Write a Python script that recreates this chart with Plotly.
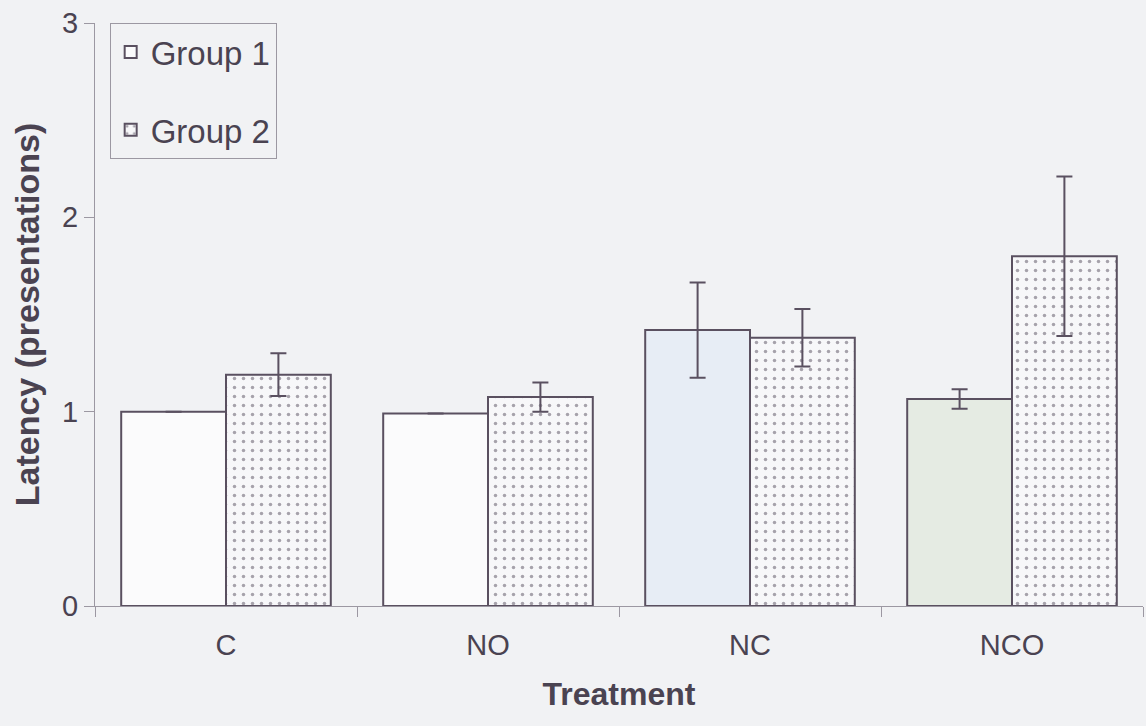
import plotly.graph_objects as go

# Treatment categories and group means / error half-widths
treatments = ["C", "NO", "NC", "NCO"]
group1_mean = [1.00, 0.99, 1.42, 1.065]
group1_err = [0.0, 0.0, 0.245, 0.05]
group2_mean = [1.19, 1.075, 1.38, 1.80]
group2_err = [0.11, 0.075, 0.148, 0.41]
y_ticks = [0, 1, 2, 3]

BG = "#f1f2f4"
INK = "#4a4351"
EDGE = "#5a5060"
AXIS = "#9c98a2"

group1_fill = ["#fbfbfc", "#fbfbfc", "#e7edf5", "#e5ebe3"]

fig = go.Figure()

fig.add_trace(go.Bar(
    name="Group 1",
    x=treatments,
    y=group1_mean,
    legendgroup="g1",
    marker=dict(color=group1_fill, line=dict(color=EDGE, width=2)),
    error_y=dict(type="data", array=group1_err, color=EDGE, thickness=2, width=8),
))

fig.add_trace(go.Bar(
    name="Group 2",
    x=treatments,
    y=group2_mean,
    legendgroup="g2",
    marker=dict(
        color="#f7f7f9",
        line=dict(color=EDGE, width=2),
        pattern=dict(shape=".", fgcolor="#564e5e", bgcolor="#f7f7f9",
                     size=9, solidity=0.12, fillmode="overlay"),
    ),
    error_y=dict(type="data", array=group2_err, color=EDGE, thickness=2, width=8),
))

fig.update_layout(
    width=1146,
    height=726,
    paper_bgcolor=BG,
    plot_bgcolor=BG,
    margin=dict(l=95, r=3, t=23, b=120),
    barmode="group",
    bargap=0.2,
    bargroupgap=0,
    font=dict(family="Liberation Sans, Arial, sans-serif", color=INK, size=28),
    showlegend=True,
    legend=dict(
        x=0.014, y=1.0, xanchor="left", yanchor="top",
        bgcolor=BG, bordercolor=AXIS, borderwidth=1,
        font=dict(size=33, color=INK),
        tracegroupgap=32,
        itemclick=False,
    ),
    xaxis=dict(
        showline=True, linecolor=AXIS, linewidth=1,
        ticks="outside", ticklen=10, tickcolor=AXIS, tickson="boundaries",
        ticklabelstandoff=13,
        tickfont=dict(size=29, color=INK),
        title=dict(text="<b>Treatment</b>", font=dict(size=32, color=INK), standoff=22),
        showgrid=False, zeroline=False,
    ),
    yaxis=dict(
        range=[0, 3],
        tickvals=y_ticks,
        showline=True, linecolor=AXIS, linewidth=1,
        ticks="outside", ticklen=10, tickcolor=AXIS,
        tickfont=dict(size=29, color=INK),
        title=dict(text="<b>Latency (presentations)</b>", font=dict(size=34, color=INK), standoff=12),
        showgrid=False, zeroline=False,
    ),
)

fig.write_html("out.html")
